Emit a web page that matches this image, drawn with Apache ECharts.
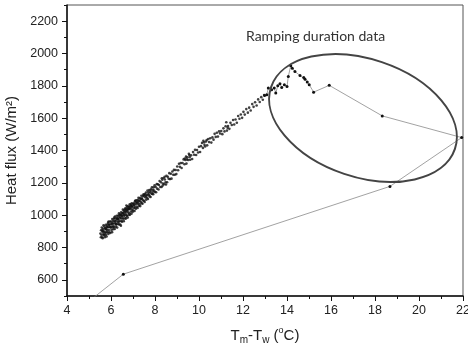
<!DOCTYPE html>
<html><head><meta charset="utf-8">
<script src="https://cdn.jsdelivr.net/npm/echarts@6/dist/echarts.min.js"></script>
<style>html,body{margin:0;padding:0;background:#fff}#c{width:468px;height:356px}</style>
</head><body><div id="c"></div>
<script>
// Steady-state data (dense band)
const steadyA = [[5.52,886],[5.54,863],[5.55,907],[5.57,877],[5.58,923],[5.60,863],[5.61,898],[5.62,857],[5.64,915],[5.65,883],[5.66,937],[5.68,876],[5.69,898],[5.70,930],[5.72,864],[5.73,918],[5.74,891],[5.76,941],[5.77,879],[5.78,913],[5.80,868],[5.81,931],[5.82,907],[5.84,943],[5.85,894],[5.86,925],[5.87,955],[5.88,884],[5.89,960],[5.90,908],[5.92,942],[5.93,895],[5.94,929],[5.96,961],[5.97,890],[5.98,944],[6.00,923],[6.01,960],[6.02,908],[6.04,946],[6.05,895],[6.06,976],[6.08,925],[6.09,964],[6.10,913],[6.12,948],[6.13,978],[6.14,927],[6.16,964],[6.17,915],[6.18,992],[6.20,948],[6.21,979],[6.22,929],[6.24,967],[6.25,942],[6.26,996],[6.28,923],[6.29,981],[6.30,957],[6.32,996],[6.33,945],[6.34,974],[6.36,1011],[6.37,942],[6.38,987],[6.40,962],[6.41,1004],[6.42,942],[6.44,1000],[6.45,979],[6.45,935],[6.46,1018],[6.48,965],[6.49,996],[6.50,959],[6.52,1013],[6.53,982],[6.54,1034],[6.56,978],[6.57,1009],[6.58,963],[6.60,1028],[6.61,996],[6.62,1021],[6.64,980],[6.65,1042],[6.66,1009],[6.68,980],[6.69,1035],[6.70,1000],[6.70,1060],[6.72,1046],[6.73,995],[6.74,1025],[6.76,985],[6.77,1040],[6.78,1016],[6.80,1053],[6.81,1003],[6.82,1038],[6.84,1012],[6.85,1067],[6.86,1002],[6.88,1039],[6.89,1060],[6.90,1023],[6.92,1055],[6.93,1009],[6.94,1074],[6.96,1034],[6.97,1057],[6.98,1020],[7.00,1068]];
const steadyB = [[7.01,1029],[7.03,1074],[7.04,1045],[7.06,1065],[7.07,1026],[7.09,1086],[7.10,1048],[7.12,1078],[7.13,1039],[7.15,1068],[7.16,1092],[7.18,1052],[7.19,1078],[7.21,1044],[7.22,1093],[7.24,1070],[7.25,1107],[7.27,1057],[7.28,1086],[7.30,1068],[7.31,1106],[7.33,1056],[7.35,1100],[7.36,1081],[7.38,1120],[7.40,1074],[7.41,1099],[7.43,1071],[7.45,1118],[7.46,1091],[7.48,1129],[7.50,1089],[7.52,1116],[7.53,1081],[7.55,1131],[7.57,1110],[7.59,1140],[7.60,1095],[7.62,1125],[7.64,1108],[7.66,1152],[7.68,1100],[7.70,1141],[7.72,1123],[7.74,1155],[7.76,1116],[7.78,1140],[7.80,1112],[7.82,1160],[7.84,1133],[7.86,1173],[7.88,1131],[7.90,1157],[7.92,1130],[7.94,1172],[7.96,1152],[7.98,1184],[8.00,1143],[8.03,1174],[8.05,1142],[8.08,1192],[8.10,1164],[8.13,1191],[8.16,1159],[8.18,1187],[8.21,1211],[8.24,1174],[8.27,1204],[8.30,1174],[8.33,1219],[8.36,1196],[8.39,1230],[8.42,1191],[8.45,1221],[8.48,1204],[8.52,1243],[8.55,1204],[8.58,1237],[8.62,1225],[8.65,1260],[8.68,1223],[8.72,1256],[8.75,1226],[8.79,1270],[8.83,1250],[8.86,1280],[8.90,1250],[8.94,1279],[8.97,1254]];
const steadyC = [[9.01,1301],[9.05,1278],[9.09,1318],[9.13,1299],[9.17,1322],[9.21,1292],[9.25,1323],[9.30,1345],[9.34,1315],[9.38,1342],[9.43,1319],[9.47,1358],[9.51,1341],[9.56,1372],[9.60,1343],[9.64,1370],[9.69,1347],[9.73,1390],[9.78,1374],[9.82,1404],[9.87,1372],[9.91,1403],[9.96,1388],[10.00,1423],[10.05,1391],[10.09,1427],[10.14,1447],[10.18,1416],[10.23,1451],[10.28,1425],[10.32,1456],[10.37,1432],[10.42,1471],[10.46,1452],[10.51,1476],[10.56,1449],[10.61,1481],[10.66,1467],[10.71,1503],[10.76,1484],[10.81,1510],[10.86,1486],[10.91,1518],[10.96,1505]];
const steadyD = [[11.01,1521],[11.06,1501],[11.11,1537],[11.16,1518],[11.21,1550],[11.27,1523],[11.32,1551],[11.38,1534],[11.43,1571],[11.49,1558],[11.55,1589],[11.60,1561],[11.66,1592],[11.72,1572],[11.78,1613],[11.84,1596],[11.90,1623],[11.96,1602],[12.02,1639],[12.08,1622],[12.15,1656],[12.22,1634],[12.28,1665],[12.35,1647],[12.42,1687],[12.48,1670],[12.55,1698],[12.62,1678],[12.69,1716],[12.76,1700],[12.83,1730],[12.90,1714],[12.96,1743]];
// extra points where the band clumps
const steadyE = [[5.60,905],[5.65,900],[5.70,880],[5.75,918],[5.79,895],[5.83,925],[5.90,940],[5.95,925],[6.03,930],[6.07,950],[6.11,935],[6.15,985],[6.19,960],[6.23,945],[6.27,980],[6.31,975],[6.35,960],[6.39,1000],[6.43,985],[6.47,1005],[6.51,995],[6.55,1015],[6.59,1000],[6.63,1035],[6.67,1020],[6.71,1030],[6.75,1055],[6.79,1035],[6.83,1050],[6.87,1045],[6.91,1065],[6.95,1050],[7.05,1060],[7.11,1090],[7.20,1080],[7.30,1090],[7.40,1105],[7.50,1125],[7.60,1120],[7.70,1130],[7.80,1150],[7.90,1145],[8.31,1228],[8.35,1183],[8.44,1238],[8.50,1190],[9.35,1350],[9.41,1362],[9.45,1345],[9.54,1380],[9.58,1360],[10.20,1460],[10.25,1435],[10.35,1465],[11.24,1575],[11.30,1540]];

// Ramping duration data (connected in order)
const rampX = [4.6, 6.56, 18.68, 21.94, 18.33, 15.92, 15.21, 15.01, 14.92, 14.82, 14.76, 14.59, 14.36, 14.24, 14.17, 14.06, 14.0, 13.88, 13.76, 13.68, 13.58, 13.49, 13.42, 13.3, 13.15, 13.08, 12.98];
const rampY = [425, 635, 1178, 1480, 1614, 1803, 1761, 1807, 1823, 1841, 1852, 1864, 1889, 1909, 1925, 1858, 1796, 1807, 1790, 1813, 1800, 1755, 1786, 1776, 1786, 1745, 1740];

// Axis ticks
const yMajorTicks = [600, 800, 1000, 1200, 1400, 1600, 1800, 2000, 2200];
const xMin = 4, xMax = 22, xStep = 2;
const yMin = 500, yMax = 2300;

const steady = steadyA.concat(steadyB, steadyC, steadyD, steadyE);
const ramp = rampX.map((x, i) => [x, rampY[i]]);

const FONT = 'Liberation Sans, Arial, sans-serif';
const chart = echarts.init(document.getElementById('c'), null, {renderer: 'canvas'});
chart.setOption({
  animation: false,
  backgroundColor: '#fff',
  grid: {left: 67, right: 5, top: 5, bottom: 60, show: true, borderColor: '#555', borderWidth: 1, containLabel: false, outerBoundsMode: 'none'},
  xAxis: {
    type: 'value', min: xMin, max: xMax, interval: xStep,
    name: 'T{sub|m}-T{sub|w} ({sup|o}C)', nameLocation: 'middle', nameGap: 30,
    nameTextStyle: {fontSize: 15, fontFamily: FONT, color: '#222',
      rich: {sub: {fontSize: 10, fontFamily: FONT, color: '#222', padding: [9, 0, 0, 0], verticalAlign: 'bottom'},
             sup: {fontSize: 9, fontFamily: FONT, color: '#222', padding: [0, 0, 8, 0], verticalAlign: 'top'}}},
    axisLine: {show: true, onZero: false, lineStyle: {color: '#111', width: 1.5}},
    axisTick: {show: true, inside: false, length: 5, lineStyle: {color: '#111', width: 1}},
    minorTick: {show: true, splitNumber: 2, length: 3, lineStyle: {color: '#111', width: 1}},
    axisLabel: {fontSize: 12.5, fontFamily: FONT, color: '#222', margin: 8},
    splitLine: {show: false}, minorSplitLine: {show: false}
  },
  yAxis: [{
    type: 'value', min: yMin, max: yMax,
    name: 'Heat flux (W/m²)', nameLocation: 'middle', nameGap: 38, nameRotate: 90,
    nameTextStyle: {fontSize: 15, fontFamily: FONT, color: '#222'},
    axisLine: {show: true, onZero: false, lineStyle: {color: '#111', width: 1.5}},
    axisTick: {show: true, inside: false, length: 5, customValues: yMajorTicks, lineStyle: {color: '#111', width: 1}},
    axisLabel: {fontSize: 12.5, fontFamily: FONT, color: '#222', margin: 9, customValues: yMajorTicks,
      formatter: v => String(v)},
    splitLine: {show: false}
  }, {
    type: 'value', min: yMin, max: yMax, interval: 100, position: 'left',
    axisLine: {show: false}, axisLabel: {show: false}, splitLine: {show: false},
    axisTick: {show: true, inside: false, length: 3, lineStyle: {color: '#111', width: 1}}
  }],
  series: [{
    type: 'scatter', data: steady, symbol: 'circle', symbolSize: 2.6,
    itemStyle: {color: '#111'}, silent: true
  }, {
    type: 'line', data: ramp, symbol: 'circle', symbolSize: 3, showSymbol: true,
    itemStyle: {color: '#111', borderWidth: 0}, lineStyle: {color: '#8a8a8a', width: 0.8},
    clip: true, silent: true, z: 3
  }],
  graphic: [{
    type: 'ellipse', x: 363, y: 118, rotation: -18.6 * Math.PI / 180,
    shape: {cx: 0, cy: 0, rx: 97, ry: 59},
    style: {fill: 'none', stroke: '#444', lineWidth: 2}, z: 100
  }, {
    type: 'text', x: 246, y: 29,
    style: {text: 'Ramping duration data', fontSize: 14, fontFamily: 'Lato', fill: '#333'}, z: 100
  }]
});
</script>
</body></html>
